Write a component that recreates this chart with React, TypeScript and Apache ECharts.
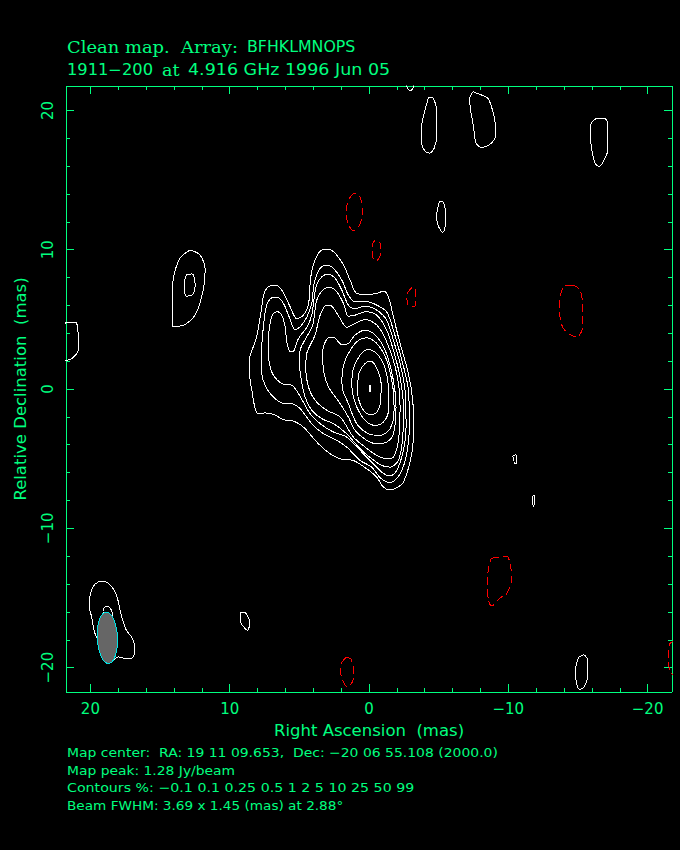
import React, { useEffect, useRef } from "react";
import * as echarts from "echarts";

const INK = "#00ff7f";
const RANGE = 21.75;
const raOffset = -0.05;
const decOffset = 0.02;

const majorTicks = [20, 10, 0, -10, -20];
const minorTicks = [18, 16, 14, 12, 8, 6, 4, 2, -2, -4, -6, -8, -12, -14, -16, -18];

const beamCentre = [18.78, -17.86];
const beamFwhm = [3.69, 1.45];
const beamAngle = 2.88;

type P = [number, number][];

const level1: P = [[8.63,2.05],[8.58,2.41],[8.22,3.37],[8.06,3.97],[7.82,5.40],[7.58,6.84],[7.27,7.32],[6.79,7.44],[6.31,7.08],[5.71,5.88],[5.23,5.02],[4.76,5.28],[4.40,6.00],[4.23,8.04],[3.92,9.24],[3.44,9.96],[2.96,10.01],[2.48,9.72],[1.88,8.88],[1.41,7.80],[0.93,6.84],[0.21,6.77],[-0.51,6.84],[-0.99,7.01],[-1.34,6.60],[-1.70,5.16],[-2.18,3.25],[-2.78,1.09],[-3.09,-0.83],[-3.14,-2.75],[-3.02,-4.67],[-2.42,-6.71],[-1.94,-7.11],[-1.46,-7.26],[-0.99,-7.07],[-0.51,-6.35],[0.21,-5.75],[1.17,-5.15],[2.12,-5.03],[2.84,-4.67],[3.68,-3.95],[4.76,-2.75],[5.47,-2.32],[6.19,-2.22],[6.91,-1.84],[7.51,-1.74],[7.98,-1.79],[8.22,-1.43],[8.46,-0.11],[8.63,1.09],[8.63,2.05]];
const level2: P = [[7.79,2.53],[7.63,4.45],[7.43,5.88],[7.10,6.48],[6.62,6.56],[6.19,6.12],[5.83,5.28],[5.35,4.25],[4.99,4.45],[4.52,5.12],[4.16,6.12],[3.99,7.56],[3.56,8.64],[3.08,8.88],[2.60,8.64],[2.00,7.80],[1.53,6.72],[1.05,6.24],[0.21,6.24],[-0.51,6.00],[-1.22,5.52],[-1.70,4.21],[-2.18,2.53],[-2.78,-0.11],[-2.85,-2.75],[-2.66,-4.67],[-2.18,-6.11],[-1.46,-6.75],[-0.75,-6.39],[-0.15,-5.63],[0.69,-5.15],[1.65,-4.19],[2.36,-3.71],[3.32,-3.23],[4.16,-2.51],[4.99,-1.43],[5.59,-1.07],[6.31,-1.02],[7.03,-0.47],[7.51,0.25],[7.75,1.09],[7.79,2.53]];
const level3: P = [[7.27,2.77],[7.27,3.49],[7.15,4.69],[6.91,5.40],[6.62,5.52],[6.31,5.28],[6.07,4.45],[5.95,3.37],[5.71,2.65],[5.47,2.69],[5.11,3.61],[4.52,4.40],[4.16,5.28],[3.85,7.32],[3.44,8.04],[2.96,8.21],[2.48,7.92],[2.00,7.08],[1.53,6.00],[1.05,5.76],[0.33,5.93],[-0.51,5.64],[-1.22,4.92],[-1.70,3.49],[-2.18,1.81],[-2.54,-0.11],[-2.61,-2.75],[-2.42,-4.43],[-1.94,-5.87],[-1.46,-6.27],[-0.87,-5.99],[-0.15,-5.27],[0.45,-4.67],[1.65,-3.47],[2.60,-3.11],[3.56,-2.51],[4.28,-1.79],[5.11,-0.35],[5.59,0.25],[6.31,0.37],[6.91,0.97],[7.20,1.81],[7.27,2.77]];
const level4: P = [[5.04,1.81],[4.99,2.77],[4.52,3.73],[4.09,4.57],[3.80,6.36],[3.32,7.13],[2.84,7.27],[2.36,6.96],[1.88,6.12],[1.53,5.21],[1.05,5.28],[0.33,5.52],[-0.51,5.28],[-1.22,4.21],[-1.70,2.77],[-2.18,0.85],[-2.42,-1.31],[-2.37,-3.47],[-2.06,-5.15],[-1.46,-5.63],[-0.87,-5.51],[-0.15,-5.03],[0.69,-4.31],[1.65,-3.23],[2.60,-2.51],[3.44,-2.15],[4.16,-1.55],[4.64,-0.59],[4.95,0.85],[5.04,1.81]];
const level5: P = [[4.59,1.33],[4.52,2.53],[3.92,3.85],[3.56,5.28],[3.08,6.00],[2.72,5.93],[2.12,5.04],[1.65,4.40],[1.05,4.69],[0.33,4.97],[-0.51,4.57],[-1.22,3.37],[-1.94,1.09],[-2.18,-1.31],[-2.06,-3.71],[-1.70,-4.91],[-1.22,-5.03],[-0.51,-4.79],[0.33,-4.19],[1.17,-3.47],[2.12,-2.03],[3.08,-1.55],[3.92,-0.83],[4.40,0.13],[4.59,1.33]];
const level6: P = [[3.37,2.53],[3.32,3.01],[3.03,3.61],[2.60,3.68],[2.00,3.17],[1.53,3.25],[1.05,3.85],[0.33,4.21],[-0.39,3.85],[-1.11,2.77],[-1.70,0.61],[-1.89,-1.31],[-1.70,-3.23],[-1.22,-3.83],[-0.51,-3.95],[0.21,-3.71],[1.05,-2.99],[1.53,-2.03],[2.12,-1.07],[2.96,0.13],[3.32,1.33],[3.37,2.53]];
const level7: P = [[2.00,0.61],[1.88,1.69],[1.53,2.53],[0.93,3.37],[0.21,3.65],[-0.51,3.25],[-1.22,2.05],[-1.66,0.13],[-1.75,-1.55],[-1.46,-2.87],[-0.75,-3.35],[0.09,-3.23],[0.93,-2.51],[1.53,-1.07],[1.93,-0.11],[2.00,0.61]];
const level8: P = [[1.29,0.37],[1.17,1.45],[0.69,2.41],[0.09,2.81],[-0.51,2.53],[-1.11,1.45],[-1.34,-0.11],[-1.34,-1.55],[-0.99,-2.39],[-0.39,-2.63],[0.33,-2.27],[0.93,-1.31],[1.22,-0.35],[1.29,0.37]];
const level9: P = [[0.88,0.13],[0.74,1.21],[0.33,1.81],[-0.08,1.98],[-0.51,1.45],[-0.82,0.37],[-0.79,-0.83],[-0.51,-1.67],[-0.03,-1.86],[0.45,-1.55],[0.81,-0.71],[0.88,0.13]];
const level10: P = [[0.03,0.2],[-0.06,0.2],[-0.06,-0.2],[0.03,-0.2],[0.03,0.2]];

const islandTop: P = [[-2.6,21.9],[-2.72,21.55],[-2.91,21.4],[-3.1,21.55],[-3.2,21.9]];
const islandB: P = [[-4.24,20.94],[-4.53,20.89],[-4.82,19.91],[-4.82,18.23],[-4.63,17.27],[-4.29,16.91],[-3.98,17.03],[-3.72,17.75],[-3.72,18.71],[-3.98,20.03],[-4.24,20.94]];
const islandC: P = [[-7.16,20.87],[-7.45,21.30],[-7.81,21.16],[-8.46,20.87],[-8.77,20.15],[-9.01,18.95],[-9.01,18.11],[-8.65,17.56],[-8.05,17.32],[-7.64,17.63],[-7.45,18.83],[-7.24,20.03],[-7.16,20.87]];
const islandD: P = [[-15.87,18.95],[-16.06,19.26],[-16.42,19.43],[-16.83,19.41],[-17.09,19.07],[-17.09,17.15],[-16.78,16.31],[-16.47,15.96],[-16.18,16.20],[-15.94,17.15],[-15.85,18.11],[-15.87,18.95]];
const islandE: P = [[-5.01,13.44],[-5.23,13.44],[-5.47,12.36],[-5.42,11.64],[-5.25,11.23],[-4.94,11.64],[-4.80,12.36],[-5.01,13.44]];
const islandF: P = [[-10.27,-4.83],[-10.51,-4.74],[-10.56,-5.34],[-10.44,-5.38],[-10.27,-4.83]];
const islandG: P = [[-11.71,-7.73],[-11.81,-7.61],[-11.85,-8.14],[-11.76,-8.43],[-11.66,-8.14],[-11.71,-7.73]];
const islandH: P = [[-14.99,-19.29],[-15.35,-19.10],[-15.66,-19.53],[-15.66,-20.61],[-15.35,-21.45],[-15.06,-21.57],[-14.80,-20.85],[-14.80,-20.01],[-14.99,-19.29]];
const islandEdge: P = [[21.9,4.71],[21.14,4.78],[20.93,3.85],[20.93,2.77],[21.36,2.19],[21.9,1.98]];
const islandNorthOuter: P = [[12.89,9.96],[12.17,9.60],[11.81,8.53],[11.95,7.09],[12.53,5.29],[13.60,4.50],[14.18,4.50],[14.18,6.01],[14.11,7.81],[13.60,9.39],[12.89,9.96]];
const islandNorthInner: P = [[13.17,8.17],[12.74,8.24],[12.53,7.45],[12.74,6.73],[13.17,6.65],[13.32,7.45],[13.17,8.17]];
const islandBeamOuter: P = [[20.02,-14.62],[19.71,-14.02],[19.23,-13.83],[18.75,-13.97],[18.20,-14.74],[17.91,-15.94],[17.51,-17.26],[17.0,-17.98],[16.86,-18.82],[17.08,-19.34],[17.55,-19.37],[18.03,-19.25],[18.46,-19.49],[19.54,-17.98],[19.78,-17.38],[19.95,-16.42],[20.11,-15.70],[20.11,-15.10],[20.02,-14.62]];
const islandBeamInner: P = [[19.16,-15.99],[18.99,-15.65],[18.75,-15.65],[18.46,-16.18],[18.8,-17],[19.16,-15.99]];
const islandSmall: P = [[9.30,-16.11],[9.06,-16.03],[8.77,-16.30],[8.61,-16.83],[8.77,-17.33],[9.01,-17.14],[9.25,-16.78],[9.30,-16.11]];

const negA: P = [[1.16,14.04],[1.52,13.56],[1.69,12.67],[1.52,11.76],[1.16,11.35],[0.73,11.76],[0.54,12.60],[0.68,13.75],[1.16,14.04]];
const negB: P = [[-0.39,10.66],[-0.18,10.32],[-0.20,9.48],[-0.47,9.19],[-0.80,9.72],[-0.80,10.32],[-0.56,10.61],[-0.39,10.66]];
const negC: P = [[-3.02,7.27],[-2.67,6.72],[-2.74,6.0],[-3.19,5.88],[-3.31,6.60],[-3.26,7.13],[-3.02,7.27]];
const negD: P = [[-14.63,7.44],[-14.03,7.37],[-13.72,6.84],[-13.62,5.64],[-13.84,4.44],[-14.32,3.92],[-14.87,3.72],[-15.27,4.32],[-15.30,5.28],[-15.23,6.60],[-15.06,7.13],[-14.63,7.44]];
const negE: P = [[-8.72,-12.17],[-9.84,-12.03],[-10.08,-12.58],[-10.20,-13.54],[-9.84,-14.69],[-9.36,-15.02],[-8.77,-15.58],[-8.53,-15.22],[-8.46,-14.02],[-8.53,-12.82],[-8.72,-12.17]];
const negF: P = [[1.69,-19.29],[1.35,-19.41],[1.16,-20.25],[1.23,-21.02],[1.64,-21.38],[1.93,-20.92],[2.12,-20.25],[2.0,-19.65],[1.69,-19.29]];
const negG: P = [[-21.9,-18.09],[-21.50,-18.38],[-21.45,-19.65],[-21.57,-20.25],[-21.9,-20.73]];

const positiveContours: P[] = [level1, level2, level3, level4, level5, level6, level7, level8, level9, level10, islandTop, islandB, islandC, islandD, islandE, islandF, islandG, islandH, islandEdge, islandNorthOuter, islandNorthInner, islandBeamOuter, islandBeamInner, islandSmall];
const negativeContours: P[] = [negA, negB, negC, negD, negE, negF, negG];

const minusSign = (v: number) => String(v).replace("-", "\u2212");

function frameAxis(extra: any) {
  return {
    type: "value",
    min: -RANGE,
    max: RANGE,
    splitLine: { show: false },
    axisLine: { show: true, onZero: false, lineStyle: { color: INK, width: 1 } },
    axisLabel: { show: false },
    ...extra,
  };
}
const ticks = (values: number[], length: number) => ({
  show: true,
  inside: true,
  length,
  customValues: values,
  lineStyle: { color: INK, width: 1 },
});
const tickLabels = (rotate: number, margin: number) => ({
  show: true,
  color: INK,
  fontFamily: "DejaVu Sans",
  fontSize: 15,
  rotate,
  margin,
  customValues: majorTicks,
  formatter: minusSign,
});

const sans = { fill: INK, fontFamily: "DejaVu Sans" };
const serif = { fill: INK, fontFamily: "DejaVu Serif" };
const label = (x: number, y: number, text: string, fontSize: number, stretch = 1, face: any = sans) => ({
  type: "text",
  x,
  y,
  scaleX: stretch,
  silent: true,
  style: { text, fontSize, textVerticalAlign: "middle", ...face },
});

export default function App() {
  const ref = useRef<HTMLDivElement>(null);
  useEffect(() => {
    document.body.style.margin = "0";
    document.body.style.background = "#000";
    const chart = echarts.init(ref.current!, undefined, { renderer: "svg" });
    chart.setOption({
      animation: false,
      backgroundColor: "#000",
      grid: { left: 66, top: 86, width: 606, height: 606, outerBoundsMode: "none" },
      xAxis: [
        frameAxis({
          inverse: true,
          position: "bottom",
          axisTick: ticks(majorTicks, 8),
          axisLabel: tickLabels(0, 9),
          name: "Right Ascension  (mas)",
          nameLocation: "middle",
          nameGap: 30,
          nameTextStyle: { color: INK, fontFamily: "DejaVu Sans", fontSize: 16.5 },
        }),
        frameAxis({ inverse: true, position: "bottom", axisTick: ticks(minorTicks, 4) }),
        frameAxis({ inverse: true, position: "top", axisTick: ticks(majorTicks, 8) }),
        frameAxis({ inverse: true, position: "top", axisTick: ticks(minorTicks, 4) }),
      ],
      yAxis: [
        frameAxis({
          position: "left",
          axisTick: ticks(majorTicks, 8),
          axisLabel: tickLabels(90, 11),
          name: "Relative Declination  (mas)",
          nameLocation: "middle",
          nameGap: 37,
          nameRotate: 90,
          nameTextStyle: { color: INK, fontFamily: "DejaVu Sans", fontSize: 16.5 },
        }),
        frameAxis({ position: "left", axisTick: ticks(minorTicks, 4) }),
        frameAxis({ position: "right", axisTick: ticks(majorTicks, 8) }),
        frameAxis({ position: "right", axisTick: ticks(minorTicks, 4) }),
      ],
      series: [
        ...positiveContours.map((c) => ({
          type: "line",
          data: c.map(([x, y]) => [x + raOffset, y + decOffset]),
          showSymbol: false,
          smooth: 0.3,
          silent: true,
          lineStyle: { color: "#ffffff", width: 1 },
        })),
        ...negativeContours.map((c) => ({
          type: "line",
          data: c.map(([x, y]) => [x + raOffset, y + decOffset]),
          showSymbol: false,
          smooth: 0.3,
          silent: true,
          lineStyle: { color: "#ff0000", width: 1, type: [8, 4] },
        })),
        {
          type: "custom",
          silent: true,
          clip: true,
          z: 10,
          data: [[...beamCentre, ...beamFwhm, beamAngle]],
          renderItem: (_: any, api: any) => {
            const [cx, cy] = api.coord([api.value(0), api.value(1)]);
            const [w, h] = api.size([api.value(3), api.value(2)]);
            return {
              type: "ellipse",
              x: cx,
              y: cy,
              rotation: (api.value(4) * Math.PI) / 180,
              shape: { cx: 0, cy: 0, rx: w / 2, ry: h / 2 },
              style: { fill: "#666666", stroke: "#00e5e5", lineWidth: 1 },
            };
          },
        },
      ],
      graphic: [
        label(67, 47, "Clean map.  Array:", 16, 1.12, serif),
        label(247, 47, "BFHKLMNOPS", 15.5, 1.02),
        label(67, 70, "1911\u2212200", 15.5, 1.05),
        label(162, 70, "at", 16, 1.1, serif),
        label(188, 70, "4.916 GHz 1996 Jun 05", 15.5, 1.128),
        label(67, 753, "Map center:  RA: 19 11 09.653,  Dec: \u221220 06 55.108 (2000.0)", 12.5, 1.116),
        label(67, 771, "Map peak: 1.28 Jy/beam", 12.5, 1.11),
        label(67, 788, "Contours %: \u22120.1 0.1 0.25 0.5 1 2 5 10 25 50 99", 12.5, 1.137),
        label(67, 806, "Beam FWHM: 3.69 x 1.45 (mas) at 2.88\u00b0", 12.5, 1.09),
      ],
    });
    return () => chart.dispose();
  }, []);
  return (
    <>
      <style>{`svg path { shape-rendering: crispEdges; }`}</style>
      <div ref={ref} style={{ position: "absolute", left: 0, top: 0, width: 680, height: 850 }} />
    </>
  );
}
